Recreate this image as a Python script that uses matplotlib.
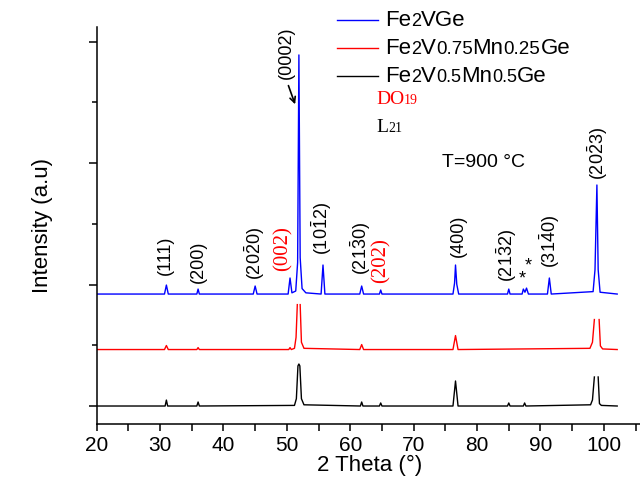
import numpy as np
import matplotlib
matplotlib.use('Agg')
import matplotlib.pyplot as plt
from matplotlib.lines import Line2D
from matplotlib.offsetbox import TextArea, HPacker, AnnotationBbox

plt.rcParams['font.family'] = 'Liberation Sans'
plt.rcParams['mathtext.fontset'] = 'custom'
plt.rcParams['mathtext.rm'] = 'Liberation Sans'

# XRD patterns, intensity above each pattern's own baseline (a.u.)
# nan marks where the top of a saturated peak is cut off
tt_v = [20, 30.7, 31.0, 31.3, 35.8, 36.0, 36.2, 44.7, 45.0, 45.3, 50.2, 50.5,
        50.8, 51.4, 51.7, 51.9, 52.1, 52.4, 53.0, 55.4, 55.7, 56.0, 61.5, 61.8,
        62.1, 64.6, 64.8, 65.0, 76.2, 76.45, 76.6, 76.8, 77.1, 84.8, 85.0, 85.2,
        87.1, 87.3, 87.55, 87.8, 88.1, 91.1, 91.4, 91.7, 98.3, 98.6, 98.9, 99.1,
        99.4, 102.1]
i_v = [0, 0, 74, 0, 0, 41, 0, 0, 66, 0, 0, 132,
       10, 25, 260, 1969, 300, 45, 10, 0, 239, 0, 0, 66,
       0, 0, 33, 0, 0, 90, 239, 80, 0, 0, 41, 0,
       0, 41, 15, 49, 0, 0, 132, 0, 20, 200, 898, 200,
       15, 0]

tt_v075 = [20, 30.7, 31.0, 31.3, 35.8, 36.0, 36.2, 50.3, 50.5, 50.7, 51.2,
           51.45, 51.65, 51.9, 52.1, 52.3, 52.7, 61.5, 61.8, 62.1, 76.2, 76.6,
           77.0, 97.8, 98.2, 98.5, 98.9, 99.25, 99.45, 99.8, 102.1]
i_v075 = [0, 0, 33, 0, 0, 16, 0, 0, 16, 0, 10,
          100, 370, np.nan, 370, 60, 10, 0, 41, 0, 0, 115,
          0, 10, 60, 247, np.nan, 247, 30, 5, 0]

tt_v05 = [20, 30.8, 31.0, 31.2, 35.8, 36.0, 36.2, 51.2, 51.5, 51.75, 51.9,
          52.05, 52.3, 52.7, 61.6, 61.8, 62.0, 64.6, 64.8, 65.0, 76.2, 76.6,
          77.0, 84.8, 85.0, 85.2, 87.3, 87.5, 87.7, 97.9, 98.2, 98.5, 98.8,
          99.1, 99.3, 99.6, 102.1]
i_v05 = [0, 0, 49, 0, 0, 33, 0, 5, 60, 330, 346,
         330, 60, 10, 0, 33, 0, 0, 25, 0, 0, 206,
         0, 0, 25, 0, 0, 25, 0, 10, 50, 239, np.nan,
         239, 20, 5, 0]

offsets = [922, 465, 0]
colors = ['#0000ff', '#ff0000', '#000000']
names = [[('Fe', 16), ('2', 13), ('VGe', 16)],
         [('Fe', 16), ('2', 13), ('V', 16), ('0.75', 13.5), ('Mn', 16), ('0.25', 13.5), ('Ge', 16)],
         [('Fe', 16), ('2', 13), ('V', 16), ('0.5', 13), ('Mn', 16), ('0.5', 13), ('Ge', 16)]]

# reflection labels: text, 2theta, bottom of label, colour
refl = [('(111)', 30.9, 1079, 'k'),
        ('(200)', 36.1, 1013, 'k'),
        (r'$\mathregular{(20\bar{2}0)}$', 45.0, 1038, 'k'),
        ('(002)', 49.4, 1110, 'r'),
        (r'$\mathregular{(10\bar{1}2)}$', 55.5, 1244, 'k'),
        (r'$\mathregular{(21\bar{3}0)}$', 61.7, 1079, 'k'),
        ('(202)', 64.8, 1015, 'r'),
        ('(400)', 77.0, 1227, 'k'),
        (r'$\mathregular{(21\bar{3}2)}$', 84.7, 1021, 'k'),
        (r'$\mathregular{(31\bar{4}0)}$', 91.5, 1137, 'k'),
        (r'$\mathregular{(20\bar{2}3)}$', 99.0, 1862, 'k')]

fig = plt.figure(figsize=(6.4, 4.8), dpi=100)
ax = fig.add_axes([0.151, 0.1167, 0.852, 0.8278])

for tt, inten, off, c in zip([tt_v, tt_v075, tt_v05], [i_v, i_v075, i_v05], offsets, colors):
    ax.plot(tt, np.array(inten) + off, color=c, lw=1.0)

for s, x, y, c in refl:
    if c == 'r':
        ax.text(x, y, s, rotation=90, ha='center', va='bottom', color='red',
                family='Liberation Serif', fontsize=15)
    else:
        ax.text(x, y, s, rotation=90, ha='center', va='bottom', fontsize=13)

ax.text(50.0, 2690, '(0002)', rotation=90, ha='center', va='bottom', fontsize=13)
ax.annotate('', xy=(51.45, 2463), xytext=(50.1, 2660),
            arrowprops=dict(arrowstyle='->', lw=1.2, color='k'))
ax.text(87.1, 1050, '*', ha='center', va='center', fontsize=13)
ax.text(88.0, 1150, '*', ha='center', va='center', fontsize=13)
ax.text(74.5, 2002, 'T=900 °C', ha='left', va='center', fontsize=14)

ax.set_xlim(20, 106)
ax.set_ylim(-148, 3124)
ax.set_xticks(np.arange(20, 101, 10))
ax.set_xticks(np.arange(25, 106, 10), minor=True)
ax.set_yticks(np.arange(0, 3001, 1000))
ax.set_yticks(np.arange(500, 3001, 1000), minor=True)
ax.set_yticklabels([])
ax.tick_params(axis='both', which='both', direction='out', width=1.1)
ax.tick_params(axis='x', which='both', length=5, labelsize=15)
ax.tick_params(axis='y', which='major', length=6)
ax.tick_params(axis='y', which='minor', length=3.5)
for side in ['top', 'right']:
    ax.spines[side].set_visible(False)
for side in ['left', 'bottom']:
    ax.spines[side].set_linewidth(1.1)
ax.set_xlabel('2 Theta (°)', fontsize=16, labelpad=0)
ax.set_ylabel('Intensity (a.u)', fontsize=16, labelpad=22)


def rich_text(parts, x, y, color, family):
    boxes = [TextArea(s, textprops=dict(size=sz, color=color, family=family))
             for s, sz in parts]
    pack = HPacker(children=boxes, align='baseline', pad=0, sep=0)
    ab = AnnotationBbox(pack, (x, y), xycoords='figure pixels',
                        box_alignment=(0, 0.5), frameon=False, pad=0)
    fig.add_artist(ab)


# legend
for k, (parts, c) in enumerate(zip(names, colors)):
    yk = 460 - 28 * k
    fig.add_artist(Line2D([337 / 640, 378 / 640], [yk / 480, yk / 480],
                          transform=fig.transFigure, color=c, lw=1.0))
    rich_text(parts, 385, yk, 'black', 'Liberation Sans')

rich_text([('DO', 14), ('19', 10)], 376, 380, 'red', 'Liberation Serif')
rich_text([('L', 14), ('21', 10)], 376, 353, 'black', 'Liberation Serif')

fig.savefig('out.png', dpi=100)
